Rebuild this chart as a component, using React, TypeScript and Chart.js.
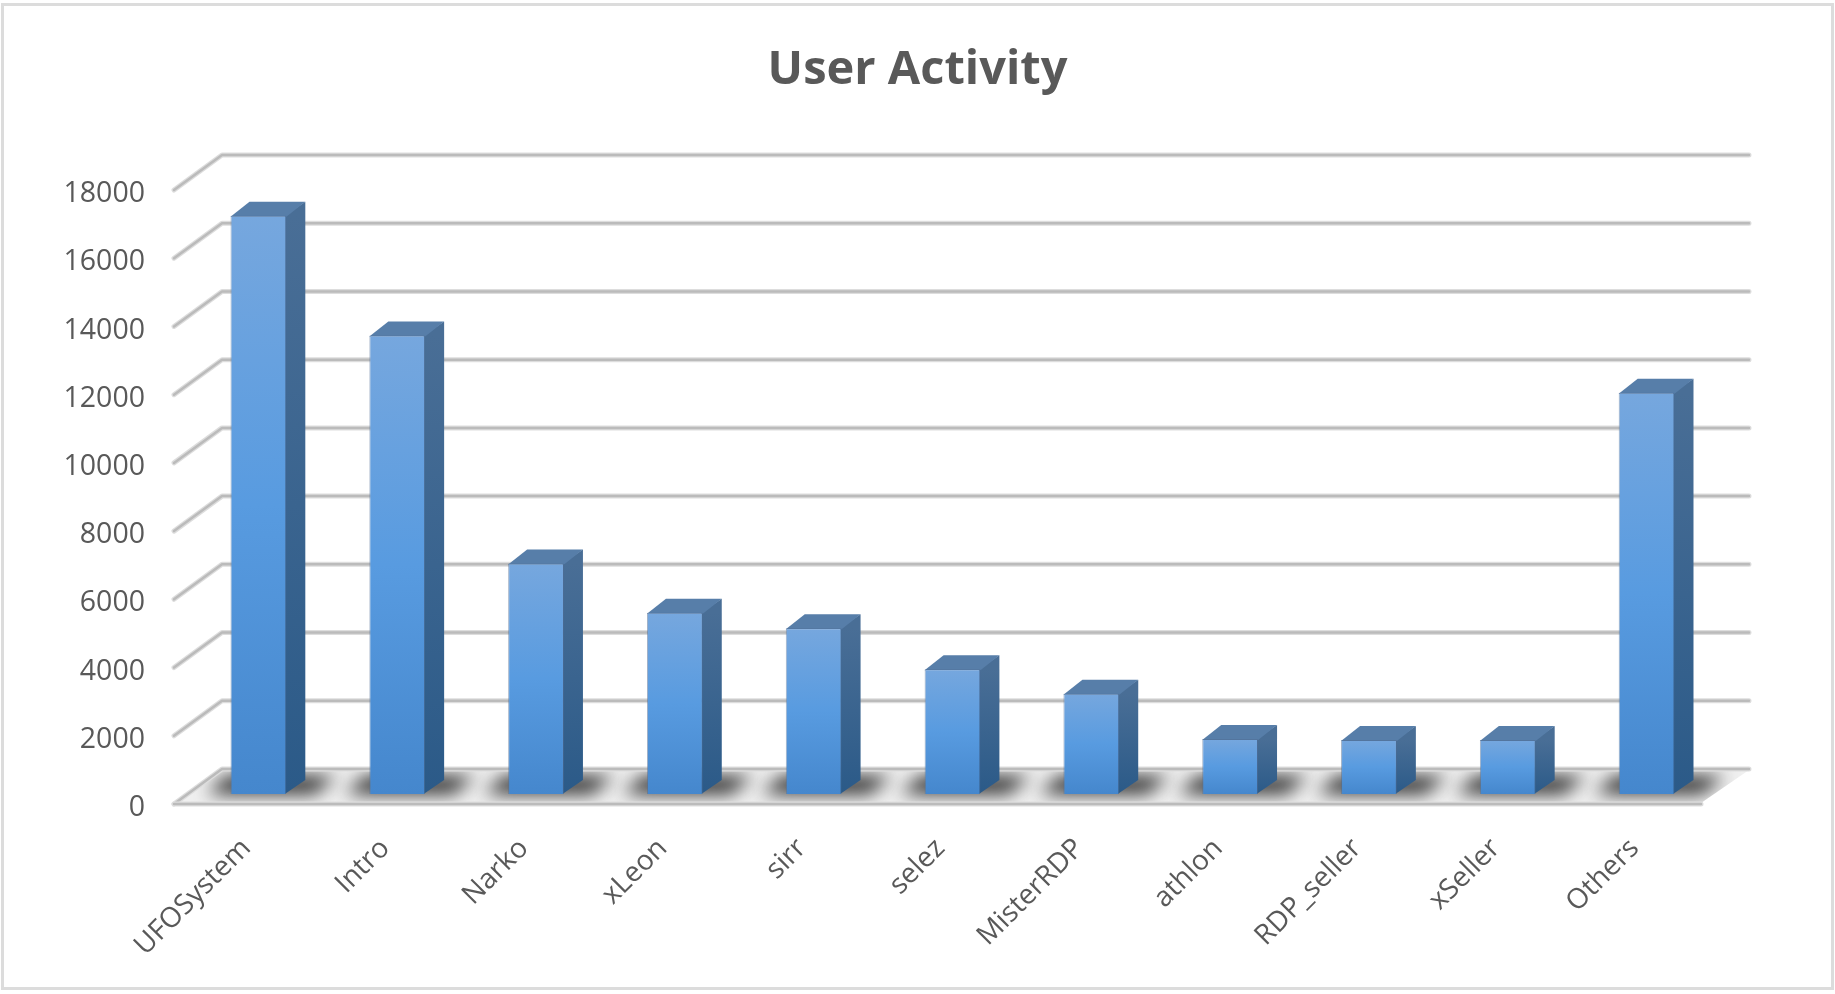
import React, { useEffect, useRef } from "react";
import { Chart, registerables } from "chart.js";

Chart.register(...registerables);

const categories = ["UFOSystem", "Intro", "Narko", "xLeon", "sirr", "selez", "MisterRDP", "athlon", "RDP_seller", "xSeller", "Others"];
const activity = [16950, 13440, 6760, 5310, 4860, 3660, 2940, 1610, 1580, 1580, 11760];
const chartTitle = "User Activity";

const TEXT = "#595959";
const FONT = "'Open Sans', sans-serif";
const BACK_DX = 48, BACK_DY = -35;
const BAR_DX = 15, BAR_DY = -10;
const SIDE_DX = 19, SIDE_DY = -14;

const cube3d = {
  id: "cube3d",
  beforeDraw(chart: any) {
    const { ctx, width, height } = chart;
    ctx.save();
    ctx.fillStyle = "#ffffff";
    ctx.fillRect(0, 0, width, height);
    ctx.strokeStyle = "#dcdcdc";
    ctx.lineWidth = 3;
    ctx.strokeRect(2.5, 4.5, width - 5, height - 10);
    ctx.restore();
  },
  beforeDatasetsDraw(chart: any) {
    const { ctx, chartArea: a, scales } = chart;
    const y = scales.y;
    const stroke = (pts: number[][], w: number, c: string) => {
      ctx.beginPath();
      pts.forEach((p, i) => (i ? ctx.lineTo(p[0], p[1]) : ctx.moveTo(p[0], p[1])));
      ctx.lineWidth = w;
      ctx.strokeStyle = c;
      ctx.lineCap = "round";
      ctx.lineJoin = "round";
      ctx.stroke();
    };
    ctx.save();
    // floor
    const py0 = y.getPixelForValue(0);
    const floor = () => {
      ctx.beginPath();
      ctx.moveTo(a.left + 3, py0 - 1);
      ctx.lineTo(a.right, py0 - 1);
      ctx.lineTo(a.right + BACK_DX, py0 + BACK_DY + 1);
      ctx.lineTo(a.left + BACK_DX, py0 + BACK_DY + 1);
      ctx.closePath();
    };
    floor();
    ctx.fillStyle = "#f0f0f0";
    ctx.fill();
    ctx.save();
    floor();
    ctx.clip();
    ctx.filter = "blur(9px)";
    ctx.fillStyle = "#2a2a2a";
    const meta = chart.getDatasetMeta(0);
    meta.data.forEach((el: any) => {
      const l = el.x + BAR_DX - el.width / 2, r = el.x + BAR_DX + el.width / 2;
      const top = py0 - 28, bot = py0 - 10;
      ctx.beginPath();
      ctx.moveTo(l - 24, bot);
      ctx.lineTo(r + 28, bot);
      ctx.lineTo(r + 50, top);
      ctx.lineTo(l - 4, top);
      ctx.closePath();
      ctx.fill();
    });
    ctx.restore();
    // gridlines on wall and side wall
    y.ticks.forEach((t: any) => {
      const py = y.getPixelForValue(t.value);
      const pts = [[a.left, py], [a.left + BACK_DX, py + BACK_DY], [a.right + BACK_DX, py + BACK_DY]];
      stroke(pts, 5, "#dddddd");
      stroke(pts, 2.5, "#bbbbbb");
    });
    const bottom = [[a.left, py0], [a.right, py0]];
    stroke(bottom, 5, "#dddddd");
    stroke(bottom, 2.5, "#bbbbbb");
    ctx.restore();
  },
  beforeDatasetDraw(chart: any) {
    const { ctx } = chart;
    const meta = chart.getDatasetMeta(0);
    ctx.save();
    meta.data.forEach((el: any) => {
      const r = el.x + BAR_DX + el.width / 2;
      const l = el.x + BAR_DX - el.width / 2;
      const top = el.y + BAR_DY;
      const base = el.base + BAR_DY;
      const g = ctx.createLinearGradient(0, top, 0, base);
      g.addColorStop(0, "#496E96");
      g.addColorStop(1, "#2B5A88");
      ctx.beginPath();
      ctx.moveTo(r - 1.5, top);
      ctx.lineTo(r + SIDE_DX, top + SIDE_DY);
      ctx.lineTo(r + SIDE_DX, base + SIDE_DY);
      ctx.lineTo(r - 1.5, base);
      ctx.closePath();
      ctx.fillStyle = g;
      ctx.fill();
      ctx.beginPath();
      ctx.moveTo(l, top + 1);
      ctx.lineTo(l + SIDE_DX, top + SIDE_DY);
      ctx.lineTo(r + SIDE_DX, top + SIDE_DY);
      ctx.lineTo(r, top + 1);
      ctx.closePath();
      ctx.fillStyle = "#577EA9";
      ctx.fill();
    });
    ctx.restore();
    ctx.save();
    ctx.translate(BAR_DX, BAR_DY);
  },
  afterDatasetDraw(chart: any) {
    chart.ctx.restore();
  },
};

export default function App() {
  const ref = useRef<HTMLCanvasElement>(null);
  useEffect(() => {
    const chart = new Chart(ref.current as HTMLCanvasElement, {
      type: "bar",
      data: {
        labels: categories,
        datasets: [
          {
            data: activity,
            clip: false as any,
            barPercentage: 0.402,
            categoryPercentage: 1,
            borderWidth: 1,
            borderColor: "rgba(80,110,150,0.55)",
            backgroundColor: (c: any) => {
              const ch = c.chart;
              if (!ch.chartArea || c.parsed == null) return "#5B9BD5";
              const y = ch.scales.y;
              const g = ch.ctx.createLinearGradient(0, y.getPixelForValue(c.parsed.y), 0, y.getPixelForValue(0));
              g.addColorStop(0, "#76A7DE");
              g.addColorStop(0.5, "#589BE0");
              g.addColorStop(1, "#4587CD");
              return g;
            },
          },
        ],
      },
      options: {
        responsive: false,
        animation: false,
        devicePixelRatio: 1,
        plugins: {
          legend: { display: false },
          tooltip: { enabled: false },
          title: {
            display: true,
            text: chartTitle,
            color: TEXT,
            font: { family: FONT, size: 47, weight: "bold" },
            padding: { top: 42, bottom: 91.6 },
          },
        },
        scales: {
          x: {
            grid: { display: false, drawTicks: false },
            border: { display: false },
            afterFit: (s: any) => { s.height = 190; },
            ticks: {
              color: TEXT,
              font: { family: FONT, size: 28 },
              minRotation: 45,
              maxRotation: 45,
              autoSkip: false,
              padding: 28,
              labelOffset: 3,
            },
          },
          y: {
            min: 0,
            max: 18000,
            grid: { display: false, drawTicks: false },
            border: { display: false },
            afterFit: (s: any) => { s.width = 174; },
            ticks: {
              stepSize: 2000,
              color: TEXT,
              font: { family: FONT, size: 28.5 },
              padding: 29,
              labelOffset: 4,
              callback: (v: any) => String(v),
            },
          },
          rightSpace: {
            type: "linear",
            position: "right",
            min: 0,
            max: 18000,
            grid: { display: false, drawTicks: false },
            border: { display: false },
            ticks: { display: false },
            afterFit: (s: any) => { s.width = 134; },
          },
        },
      },
      plugins: [cube3d],
    } as any);
    return () => chart.destroy();
  }, []);
  return (
    <div style={{ position: "fixed", left: 0, top: 0, width: 1835, height: 994 }}>
      <canvas ref={ref} width={1835} height={994} style={{ display: "block" }} />
    </div>
  );
}
